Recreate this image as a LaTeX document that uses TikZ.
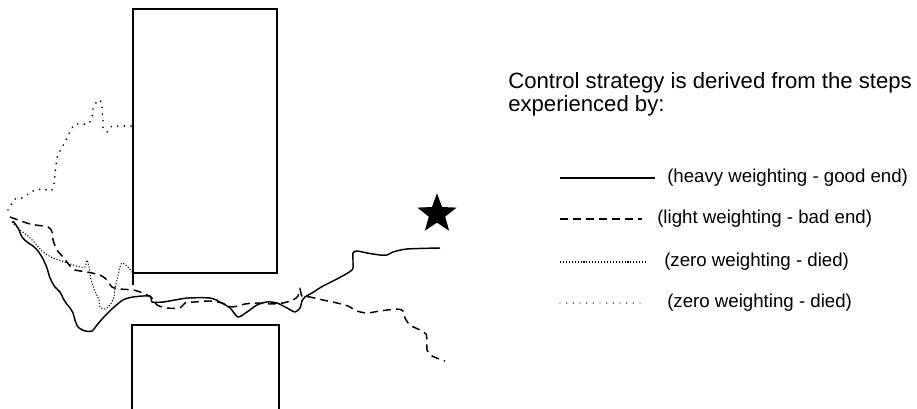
\documentclass[tikz,border=0pt]{standalone}
\usepackage{fontspec}
\setmainfont{Liberation Sans}
\usetikzlibrary{shapes.geometric}
\tikzset{
  wall/.style={draw=black, line width=1.2pt},
  heavy/.style={draw=black, line width=1.1pt, line join=round},
  light/.style={draw=black, line width=1.1pt, dash pattern=on 6pt off 3.8pt},
  zerofine/.style={draw=black, line width=0.8pt, dash pattern=on 0.8pt off 1.4pt},
  zerosparse/.style={draw=black, line width=1.4pt, line cap=round, dash pattern=on 0pt off 5pt},
  legtext/.style={anchor=west, inner sep=0pt, font=\fontsize{14}{17}\selectfont},
  headtext/.style={anchor=base west, inner sep=0pt, font=\fontsize{16.6}{20}\selectfont},
  goal/.style={star, star points=5, star point ratio=2.4, fill=black, draw=none, minimum size=31pt, inner sep=0pt}
}
\begin{document}
\begin{tikzpicture}[x=0.75pt,y=-0.75pt]
\useasboundingbox (0,0) rectangle (917,409);
% obstacles
\draw[wall] (133,285) coordinate (ubl) |- (277,9) coordinate (utr) |- (133,273);
\draw[wall] (132,420) -- (132,325) coordinate (ltl) -- (279,325) coordinate (ltr) -- (279,420);
\node[goal] (star) at (437,214) {};
% trajectories
\draw[heavy] plot[smooth, tension=0.45] coordinates {(13,221) (18,228) (22,237) (27,242) (33,246) (38,251) (43,259) (47,268) (50,278) (55,287) (60,292) (63,298) (66,303) (70,308) (73,313) (75,320) (78,327) (85,331) (92,331) (97,325) (103,318) (113,308) (123,300) (133,297) (150,296) (152,302) (163,302) (175,300) (188,298) (210,298) (220,302) (230,308) (238,317) (247,312) (257,305) (267,302) (277,303) (287,308) (295,312) (300,308) (302,301) (305,297) (312,293) (323,286) (337,279) (352,270) (353,262) (353,253) (357,251) (367,253) (380,255) (387,255) (393,252) (407,249) (440,248)};
\draw[light] plot[smooth, tension=0.45] coordinates {(10,217) (30,224) (48,227) (52,232) (53,240) (57,250) (63,257) (70,266) (75,270) (87,272) (100,275) (107,280) (112,287) (120,289) (133,290) (143,293) (152,298) (157,305) (167,308) (180,308) (185,303) (195,302) (210,301) (222,303) (232,307) (245,304) (257,303) (270,304) (283,303) (293,300) (298,296) (300,289) (302,296) (310,297) (323,300) (337,303) (348,306) (357,311) (367,313) (380,311) (397,309) (403,311) (405,318) (410,325) (420,330) (426,334) (427,342) (427,350) (432,356) (445,361)};
\draw[zerofine] plot[smooth, tension=0.45] coordinates {(12,222) (20,230) (28,236) (35,243) (43,252) (53,258) (62,261) (70,264) (80,267) (85,267) (87,260) (89,267) (91,280) (95,291) (99,300) (100,307) (105,309) (110,305) (114,297) (115,288) (117,280) (120,267) (122,263) (127,266) (133,273)};
\draw[zerosparse] plot[smooth, tension=0.45] coordinates {(8,210) (15,199) (22,198) (33,191) (43,189) (51,191) (54,184) (55,174) (57,158) (60,151) (64,144) (68,136) (72,128) (76,124) (88,124) (92,117) (93,109) (98,100) (102,103) (102,110) (103,120) (103,128) (107,132) (112,126) (117,126) (133,126)};
% legend
\node[headtext] (h1) at (508,89) {Control strategy is derived from the steps};
\node[headtext] (h2) at (508,112) {experienced by:};
\coordinate (a1) at (560,178); \coordinate (b1) at (655,178);
\coordinate (a2) at (560,219); \coordinate (b2) at (642,219);
\coordinate (a3) at (560,262); \coordinate (b3) at (646,262);
\coordinate (a4) at (560,303); \coordinate (b4) at (642,303);
\draw[heavy, line width=0.9pt] (a1) -- (b1);
\draw[light, line width=0.9pt] (a2) -- (b2);
\draw[zerofine] (a3) -- (b3);
\draw[zerosparse, line width=1.1pt] (a4) -- (b4);
\node[legtext] (t1) at (667,178) {(heavy weighting - good end)};
\node[legtext] (t2) at (657,219) {(light weighting - bad end)};
\node[legtext] (t3) at (664,262) {(zero weighting - died)};
\node[legtext] (t4) at (667,303) {(zero weighting - died)};
\end{tikzpicture}
\end{document}
